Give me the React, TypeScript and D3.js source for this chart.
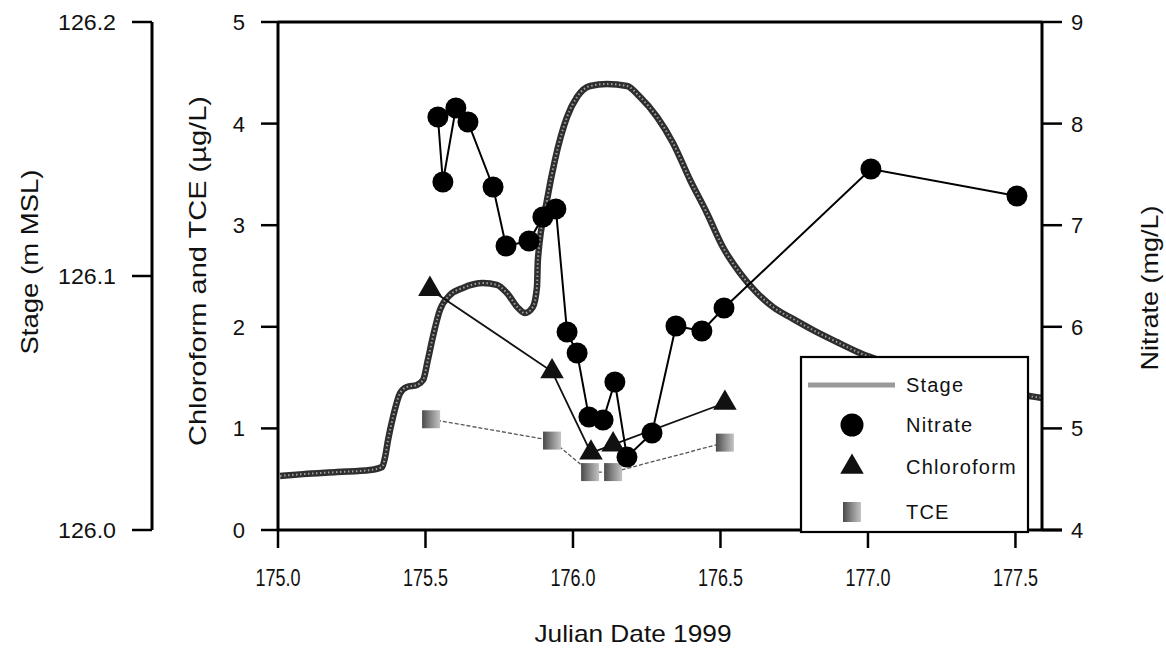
import React from "react";
import * as d3 from "d3";

// ---- data ----
const stageDay = [175.007, 175.085, 175.2, 175.312, 175.353, 175.363, 175.373, 175.39, 175.414, 175.437, 175.471, 175.492, 175.508, 175.525, 175.549, 175.583, 175.627, 175.695, 175.742, 175.776, 175.814, 175.837, 175.864, 175.878, 175.881, 175.912, 175.939, 175.98, 176.014, 176.058, 176.115, 176.183, 176.227, 176.285, 176.339, 176.397, 176.454, 176.508, 176.566, 176.624, 176.678, 176.746, 176.814, 176.895, 176.973, 177.176, 177.38, 177.566, 177.59];
const stageM = [126.0213, 126.022, 126.0228, 126.0236, 126.0248, 126.0287, 126.0354, 126.0445, 126.0539, 126.0563, 126.0571, 126.0591, 126.0669, 126.076, 126.0866, 126.0925, 126.0953, 126.0972, 126.0965, 126.0933, 126.0874, 126.0854, 126.0878, 126.0957, 126.1063, 126.1299, 126.1457, 126.1626, 126.1705, 126.1748, 126.1756, 126.1748, 126.1705, 126.1626, 126.1524, 126.1378, 126.1248, 126.1114, 126.1012, 126.0933, 126.0878, 126.0831, 126.0787, 126.074, 126.0697, 126.0622, 126.0567, 126.0524, 126.052];

const nitrateDay = [175.542, 175.559, 175.603, 175.644, 175.729, 175.773, 175.851, 175.898, 175.942, 175.98, 176.014, 176.054, 176.102, 176.142, 176.183, 176.268, 176.349, 176.437, 176.512, 177.01, 177.505];
const nitrateVal = [8.065, 7.425, 8.154, 8.016, 7.376, 6.795, 6.844, 7.081, 7.159, 5.949, 5.742, 5.112, 5.083, 5.457, 4.718, 4.955, 6.008, 5.959, 6.185, 7.553, 7.287];

const chloroDay = [175.515, 175.929, 176.061, 176.136, 176.515];
const chloroVal = [2.37, 1.56, 0.76, 0.84, 1.25];

const tceDay = [175.519, 175.929, 176.058, 176.136, 176.515];
const tceVal = [1.09, 0.88, 0.57, 0.57, 0.86];

const xTicks = [175.0, 175.5, 176.0, 176.5, 177.0, 177.5];
const concTicks = [0, 1, 2, 3, 4, 5];
const nitrateTicks = [4, 5, 6, 7, 8, 9];
const stageTicks = [126.0, 126.1, 126.2];

const legendItems = ["Stage", "Nitrate", "Chloroform", "TCE"];

const FONT = "'Liberation Sans', Arial, sans-serif";

export default function App() {
  const left = 278, right = 1042, top = 22, bottom = 530;
  const x = d3.scaleLinear().domain([175, 177.59]).range([left, right]);
  const yC = d3.scaleLinear().domain([0, 5]).range([bottom, top]);
  const yN = d3.scaleLinear().domain([4, 9]).range([bottom, top]);
  const yS = d3.scaleLinear().domain([126.0, 126.2]).range([bottom, top]);
  const stageAxisX = 152;

  const stagePts: [number, number][] = stageDay.map((d, i) => [x(d), yS(stageM[i])]);
  const stagePath = d3.line().curve(d3.curveMonotoneX)(stagePts) || "";
  const nitPts: [number, number][] = nitrateDay.map((d, i) => [x(d), yN(nitrateVal[i])]);
  const nitPath = d3.line()(nitPts) || "";
  const chlPts: [number, number][] = chloroDay.map((d, i) => [x(d), yC(chloroVal[i])]);
  const chlPath = d3.line()(chlPts) || "";
  const tcePts: [number, number][] = tceDay.map((d, i) => [x(d), yC(tceVal[i])]);
  const tcePath = d3.line()(tcePts) || "";
  const tri = d3.symbol(d3.symbolTriangle, 240)() || "";

  const lgX = 801, lgY = 357, lgW = 227, lgH = 175;
  const lgRows = [385, 425, 467, 512];

  return (
    <svg width={1166} height={653} style={{ position: "absolute", left: 0, top: 0, background: "#fff" }} fontFamily={FONT}>
      <defs>
        <linearGradient id="tceGrad" x1="0" x2="1" y1="0" y2="0">
          <stop offset="0" stopColor="#4a4a4a" />
          <stop offset="0.5" stopColor="#8a8a8a" />
          <stop offset="1" stopColor="#c4c4c4" />
        </linearGradient>
      </defs>
      <rect width={1166} height={653} fill="#fff" />

      {/* stage line */}
      <path d={stagePath} fill="none" stroke="#2e2e2e" strokeWidth={6.5} strokeLinejoin="round" />
      <path d={stagePath} fill="none" stroke="#a0a0a0" strokeWidth={2} strokeDasharray="1.5,2.5" />

      {/* TCE */}
      <path d={tcePath} fill="none" stroke="#555" strokeWidth={1.3} strokeDasharray="4,2" />
      {tcePts.map((p, i) => (
        <rect key={"t" + i} x={p[0] - 9} y={p[1] - 9} width={18} height={18} fill="url(#tceGrad)" />
      ))}

      {/* Chloroform */}
      <path d={chlPath} fill="none" stroke="#111" strokeWidth={1.8} />
      {chlPts.map((p, i) => (
        <path key={"c" + i} d={tri} transform={`translate(${p[0]},${p[1]})`} fill="#111" />
      ))}

      {/* Nitrate */}
      <path d={nitPath} fill="none" stroke="#000" strokeWidth={2} />
      {nitPts.map((p, i) => (
        <circle key={"n" + i} cx={p[0]} cy={p[1]} r={10.5} fill="#000" />
      ))}

      {/* frame */}
      <line x1={left} x2={left} y1={top - 1} y2={bottom + 1} stroke="#000" strokeWidth={3} />
      <line x1={left} x2={right} y1={top} y2={top} stroke="#000" strokeWidth={3} />
      <line x1={right} x2={right} y1={top - 1} y2={bottom + 1} stroke="#000" strokeWidth={3} />
      <line x1={left - 1} x2={right + 20} y1={bottom} y2={bottom} stroke="#000" strokeWidth={3} />

      {/* x ticks */}
      {xTicks.map((t) => (
        <g key={"x" + t}>
          <line x1={x(t)} x2={x(t)} y1={bottom} y2={bottom + 18} stroke="#000" strokeWidth={2.5} />
          <text x={x(t)} y={586} textAnchor="middle" fontSize={23} textLength={45} lengthAdjust="spacingAndGlyphs" fill="#111">
            {t.toFixed(1)}
          </text>
        </g>
      ))}
      <text x={633} y={642} textAnchor="middle" fontSize={24} textLength={197} lengthAdjust="spacingAndGlyphs" fill="#111">
        Julian Date 1999
      </text>

      {/* left concentration axis */}
      {concTicks.map((t) => (
        <g key={"c" + t}>
          <line x1={left - 17} x2={left} y1={yC(t)} y2={yC(t)} stroke="#000" strokeWidth={2.5} />
          <text x={245} y={yC(t) + 8} textAnchor="end" fontSize={22} fill="#111">
            {t}
          </text>
        </g>
      ))}
      <text transform={`translate(206,271) rotate(-90)`} textAnchor="middle" fontSize={24} textLength={350} lengthAdjust="spacingAndGlyphs" fill="#111">
        Chloroform and TCE (µg/L)
      </text>

      {/* stage axis */}
      <line x1={stageAxisX} x2={stageAxisX} y1={yS(126.2)} y2={yS(126.0)} stroke="#000" strokeWidth={3} />
      {stageTicks.map((t) => (
        <g key={"s" + t}>
          <line x1={stageAxisX - 20} x2={stageAxisX} y1={yS(t)} y2={yS(t)} stroke="#000" strokeWidth={2.5} />
          <text x={116} y={yS(t) + 8} textAnchor="end" fontSize={22} textLength={58} lengthAdjust="spacingAndGlyphs" fill="#111">
            {t.toFixed(1)}
          </text>
        </g>
      ))}
      <text transform={`translate(38,262) rotate(-90)`} textAnchor="middle" fontSize={24} textLength={185} lengthAdjust="spacingAndGlyphs" fill="#111">
        Stage  (m MSL)
      </text>

      {/* right nitrate axis */}
      {nitrateTicks.map((t) => (
        <g key={"r" + t}>
          <line x1={right} x2={right + 20} y1={yN(t)} y2={yN(t)} stroke="#000" strokeWidth={2.5} />
          <text x={1071} y={yN(t) + 8} textAnchor="start" fontSize={22} fill="#111">
            {t}
          </text>
        </g>
      ))}
      <text transform={`translate(1158,288) rotate(-90)`} textAnchor="middle" fontSize={24} textLength={165} lengthAdjust="spacingAndGlyphs" fill="#111">
        Nitrate (mg/L)
      </text>

      {/* legend */}
      <rect x={lgX} y={lgY} width={lgW} height={lgH} fill="#fff" stroke="#000" strokeWidth={2.2} />
      <line x1={808} x2={895} y1={lgRows[0]} y2={lgRows[0]} stroke="#9a9a9a" strokeWidth={5} />
      <circle cx={852} cy={lgRows[1]} r={11.5} fill="#000" />
      <path d={tri} transform={`translate(852,${lgRows[2]})`} fill="#111" />
      <rect x={843} y={lgRows[3] - 10} width={18} height={20} fill="url(#tceGrad)" />
      {legendItems.map((s, i) => (
        <text key={s} x={906} y={lgRows[i] + 7} fontSize={20} letterSpacing={1.2} fill="#111">
          {s}
        </text>
      ))}
    </svg>
  );
}
